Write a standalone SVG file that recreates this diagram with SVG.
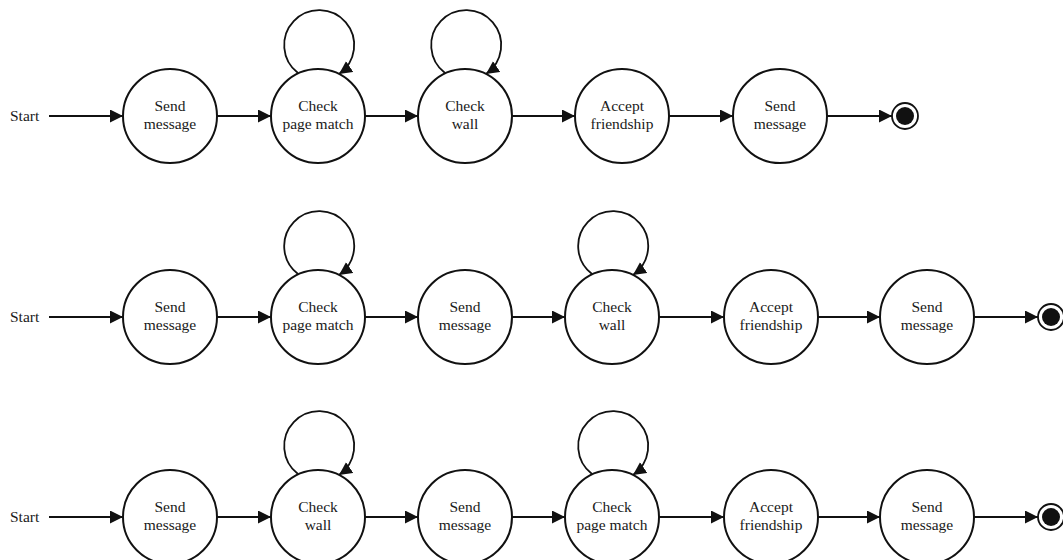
<svg xmlns="http://www.w3.org/2000/svg" width="1063" height="560" viewBox="0 0 1063 560">
<style>
.node{fill:#fff;stroke:#111;stroke-width:2}
.lbl{font-family:"Liberation Serif","Times New Roman",serif;font-size:15.5px;fill:#1a1a1a;text-anchor:middle}
.start{font-family:"Liberation Serif","Times New Roman",serif;font-size:15.5px;fill:#1a1a1a}
.edge{fill:none;stroke:#111;stroke-width:1.8;marker-end:url(#arr)}
.endo{fill:#fff;stroke:#111;stroke-width:1.8}
.endi{fill:#111}
</style>
<defs>
<marker id="arr" markerUnits="userSpaceOnUse" markerWidth="16" markerHeight="14" refX="13" refY="6.5" orient="auto">
<path d="M0,0 L13,6.5 L0,13 z" fill="#111"/>
</marker>
</defs>
<rect width="1063" height="560" fill="#fff"/>
<g id="connectors">
<line class="edge" x1="49" y1="116" x2="123" y2="116"/>
<line class="edge" x1="217" y1="116" x2="271" y2="116"/>
<line class="edge" x1="365" y1="116" x2="418" y2="116"/>
<line class="edge" x1="512" y1="116" x2="575" y2="116"/>
<line class="edge" x1="669" y1="116" x2="733" y2="116"/>
<line class="edge" x1="827" y1="116" x2="892" y2="116"/>
<path class="edge" d="M298,73 A35,35 0 1 1 339,74"/>
<path class="edge" d="M445,73 A35,35 0 1 1 486,74"/>
<line class="edge" x1="49" y1="317" x2="123" y2="317"/>
<line class="edge" x1="217" y1="317" x2="271" y2="317"/>
<line class="edge" x1="365" y1="317" x2="418" y2="317"/>
<line class="edge" x1="512" y1="317" x2="565" y2="317"/>
<line class="edge" x1="659" y1="317" x2="724" y2="317"/>
<line class="edge" x1="818" y1="317" x2="880" y2="317"/>
<line class="edge" x1="974" y1="317" x2="1038" y2="317"/>
<path class="edge" d="M298,274 A35,35 0 1 1 339,275"/>
<path class="edge" d="M592,274 A35,35 0 1 1 633,275"/>
<line class="edge" x1="49" y1="517" x2="123" y2="517"/>
<line class="edge" x1="217" y1="517" x2="271" y2="517"/>
<line class="edge" x1="365" y1="517" x2="418" y2="517"/>
<line class="edge" x1="512" y1="517" x2="565" y2="517"/>
<line class="edge" x1="659" y1="517" x2="724" y2="517"/>
<line class="edge" x1="818" y1="517" x2="880" y2="517"/>
<line class="edge" x1="974" y1="517" x2="1038" y2="517"/>
<path class="edge" d="M298,474 A35,35 0 1 1 339,475"/>
<path class="edge" d="M592,474 A35,35 0 1 1 633,475"/>
</g>
<g id="r1-start"><text class="start" x="10" y="121">Start</text></g>
<g id="r1-n1"><circle class="node" cx="170" cy="116" r="47"/><text class="lbl" x="170" y="111">Send</text><text class="lbl" x="170" y="129">message</text></g>
<g id="r1-n2"><circle class="node" cx="318" cy="116" r="47"/><text class="lbl" x="318" y="111">Check</text><text class="lbl" x="318" y="129">page match</text></g>
<g id="r1-n3"><circle class="node" cx="465" cy="116" r="47"/><text class="lbl" x="465" y="111">Check</text><text class="lbl" x="465" y="129">wall</text></g>
<g id="r1-n4"><circle class="node" cx="622" cy="116" r="47"/><text class="lbl" x="622" y="111">Accept</text><text class="lbl" x="622" y="129">friendship</text></g>
<g id="r1-n5"><circle class="node" cx="780" cy="116" r="47"/><text class="lbl" x="780" y="111">Send</text><text class="lbl" x="780" y="129">message</text></g>
<g id="r1-end"><circle class="endo" cx="905" cy="116" r="13"/><circle class="endi" cx="905" cy="116" r="9"/></g>
<g id="r2-start"><text class="start" x="10" y="322">Start</text></g>
<g id="r2-n1"><circle class="node" cx="170" cy="317" r="47"/><text class="lbl" x="170" y="312">Send</text><text class="lbl" x="170" y="330">message</text></g>
<g id="r2-n2"><circle class="node" cx="318" cy="317" r="47"/><text class="lbl" x="318" y="312">Check</text><text class="lbl" x="318" y="330">page match</text></g>
<g id="r2-n3"><circle class="node" cx="465" cy="317" r="47"/><text class="lbl" x="465" y="312">Send</text><text class="lbl" x="465" y="330">message</text></g>
<g id="r2-n4"><circle class="node" cx="612" cy="317" r="47"/><text class="lbl" x="612" y="312">Check</text><text class="lbl" x="612" y="330">wall</text></g>
<g id="r2-n5"><circle class="node" cx="771" cy="317" r="47"/><text class="lbl" x="771" y="312">Accept</text><text class="lbl" x="771" y="330">friendship</text></g>
<g id="r2-n6"><circle class="node" cx="927" cy="317" r="47"/><text class="lbl" x="927" y="312">Send</text><text class="lbl" x="927" y="330">message</text></g>
<g id="r2-end"><circle class="endo" cx="1051" cy="317" r="13"/><circle class="endi" cx="1051" cy="317" r="9"/></g>
<g id="r3-start"><text class="start" x="10" y="522">Start</text></g>
<g id="r3-n1"><circle class="node" cx="170" cy="517" r="47"/><text class="lbl" x="170" y="512">Send</text><text class="lbl" x="170" y="530">message</text></g>
<g id="r3-n2"><circle class="node" cx="318" cy="517" r="47"/><text class="lbl" x="318" y="512">Check</text><text class="lbl" x="318" y="530">wall</text></g>
<g id="r3-n3"><circle class="node" cx="465" cy="517" r="47"/><text class="lbl" x="465" y="512">Send</text><text class="lbl" x="465" y="530">message</text></g>
<g id="r3-n4"><circle class="node" cx="612" cy="517" r="47"/><text class="lbl" x="612" y="512">Check</text><text class="lbl" x="612" y="530">page match</text></g>
<g id="r3-n5"><circle class="node" cx="771" cy="517" r="47"/><text class="lbl" x="771" y="512">Accept</text><text class="lbl" x="771" y="530">friendship</text></g>
<g id="r3-n6"><circle class="node" cx="927" cy="517" r="47"/><text class="lbl" x="927" y="512">Send</text><text class="lbl" x="927" y="530">message</text></g>
<g id="r3-end"><circle class="endo" cx="1051" cy="517" r="13"/><circle class="endi" cx="1051" cy="517" r="9"/></g>
</svg>
